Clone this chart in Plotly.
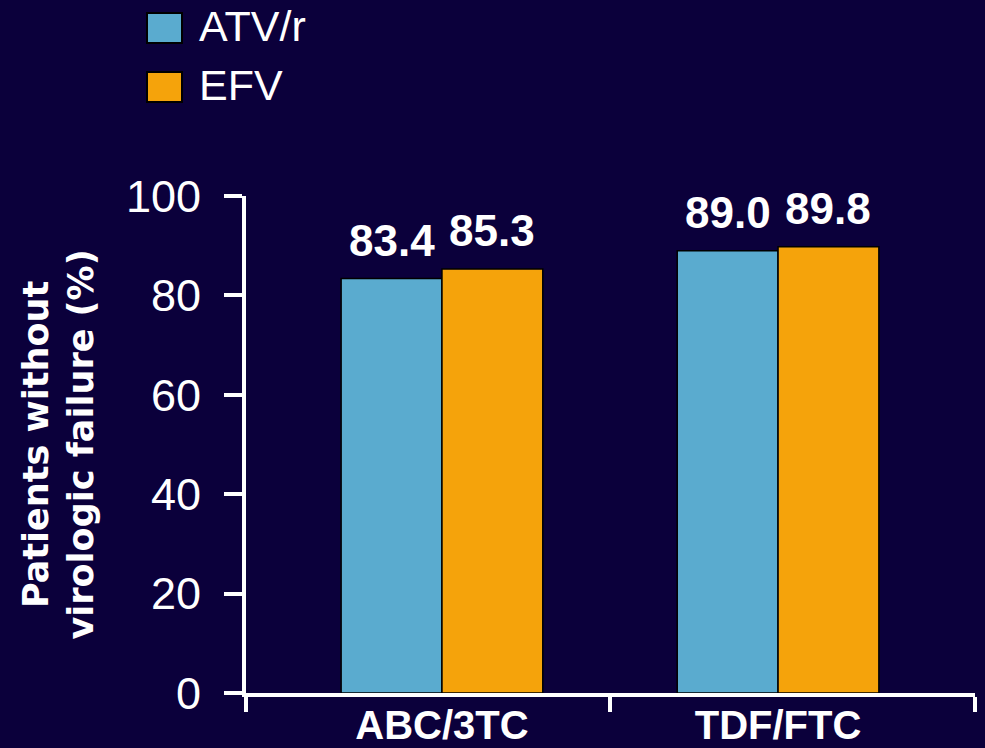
import plotly.graph_objects as go

# --- data -------------------------------------------------------------
categories = ["ABC/3TC", "TDF/FTC"]
series_names = ["ATV/r", "EFV"]
atv_r = [83.4, 89.0]
efv = [85.3, 89.8]
series_values = [atv_r, efv]
series_colors = ["#5aabcf", "#f5a30b"]
y_ticks = [0, 20, 40, 60, 80, 100]
y_title = "Patients without<br>virologic failure (%)"

# --- style ------------------------------------------------------------
BG = "#0b003b"
FONT = "Liberation Sans, Arial, sans-serif"
TITLE_FONT = "DejaVu Sans, Liberation Sans, Arial, sans-serif"
BAR_GAP = 0.4
X_RANGE = [-0.583, 1.586]

positions = list(range(len(categories)))
n_series = len(series_names)
bar_w = (1 - BAR_GAP) / n_series

fig = go.Figure()
for name, vals, color in zip(series_names, series_values, series_colors):
    fig.add_trace(go.Bar(
        x=positions, y=vals, name=name,
        marker=dict(color=color, line=dict(color="black", width=1.5)),
        showlegend=False,
    ))

annotations = []
shapes = []

# value labels above each bar
for s, vals in enumerate(series_values):
    offset = (s - (n_series - 1) / 2) * bar_w
    for i, v in enumerate(vals):
        annotations.append(dict(
            x=positions[i] + offset, y=v, xref="x", yref="y",
            text=f"<b>{v:.1f}</b>", showarrow=False,
            xanchor="center", yanchor="bottom", yshift=12,
            font=dict(size=44, color="white", family=FONT),
        ))

# legend: large swatches with labels, above the plot area
for s, (name, color) in enumerate(zip(series_names, series_colors)):
    top = 183 - s * 59
    shapes.append(dict(
        type="rect", xref="paper", yref="paper",
        xsizemode="pixel", ysizemode="pixel", xanchor=0, yanchor=1,
        x0=-99, x1=-64, y0=top - 30, y1=top,
        fillcolor=color, line=dict(color="black", width=2),
    ))
    annotations.append(dict(
        xref="paper", yref="paper", x=0, y=1, xshift=-49, yshift=top - 13,
        xanchor="left", yanchor="middle", text=name, showarrow=False,
        font=dict(size=43, color="white", family=FONT),
    ))

# y-axis title
annotations.append(dict(
    xref="paper", yref="paper", x=0, y=0.5, xshift=-188,
    xanchor="center", yanchor="middle", textangle=-90,
    text=f"<b>{y_title}</b>", showarrow=False,
    font=dict(size=35, color="white", family=TITLE_FONT),
))

boundaries = [X_RANGE[0]] + [p + 0.5 for p in positions[:-1]] + [X_RANGE[1]]

fig.update_layout(
    width=985, height=748,
    margin=dict(l=246, r=10, t=196, b=55),
    paper_bgcolor=BG, plot_bgcolor=BG,
    barmode="group", bargap=BAR_GAP, bargroupgap=0,
    font=dict(family=FONT, color="white"),
    annotations=annotations, shapes=shapes,
    showlegend=False,
    xaxis=dict(
        type="linear", range=X_RANGE, automargin=False,
        tickmode="array", tickvals=positions, ticktext=categories,
        ticks="", showgrid=False, zeroline=False,
        ticklabelstandoff=-6,
        showline=True, linecolor="white", linewidth=4,
        tickfont=dict(size=40, color="white", family=FONT, weight="bold"),
        minor=dict(tickmode="array", tickvals=boundaries, ticks="outside",
                   ticklen=15, tickwidth=4, tickcolor="white", showgrid=False),
    ),
    yaxis=dict(
        range=[0, 100], tickmode="array", tickvals=y_ticks, automargin=False,
        ticks="outside", ticklen=18, tickwidth=4, tickcolor="white",
        ticklabelstandoff=14,
        showline=True, linecolor="white", linewidth=4,
        showgrid=False, zeroline=False,
        tickfont=dict(size=45, color="white", family=FONT),
    ),
)

fig.write_html("out.html")
